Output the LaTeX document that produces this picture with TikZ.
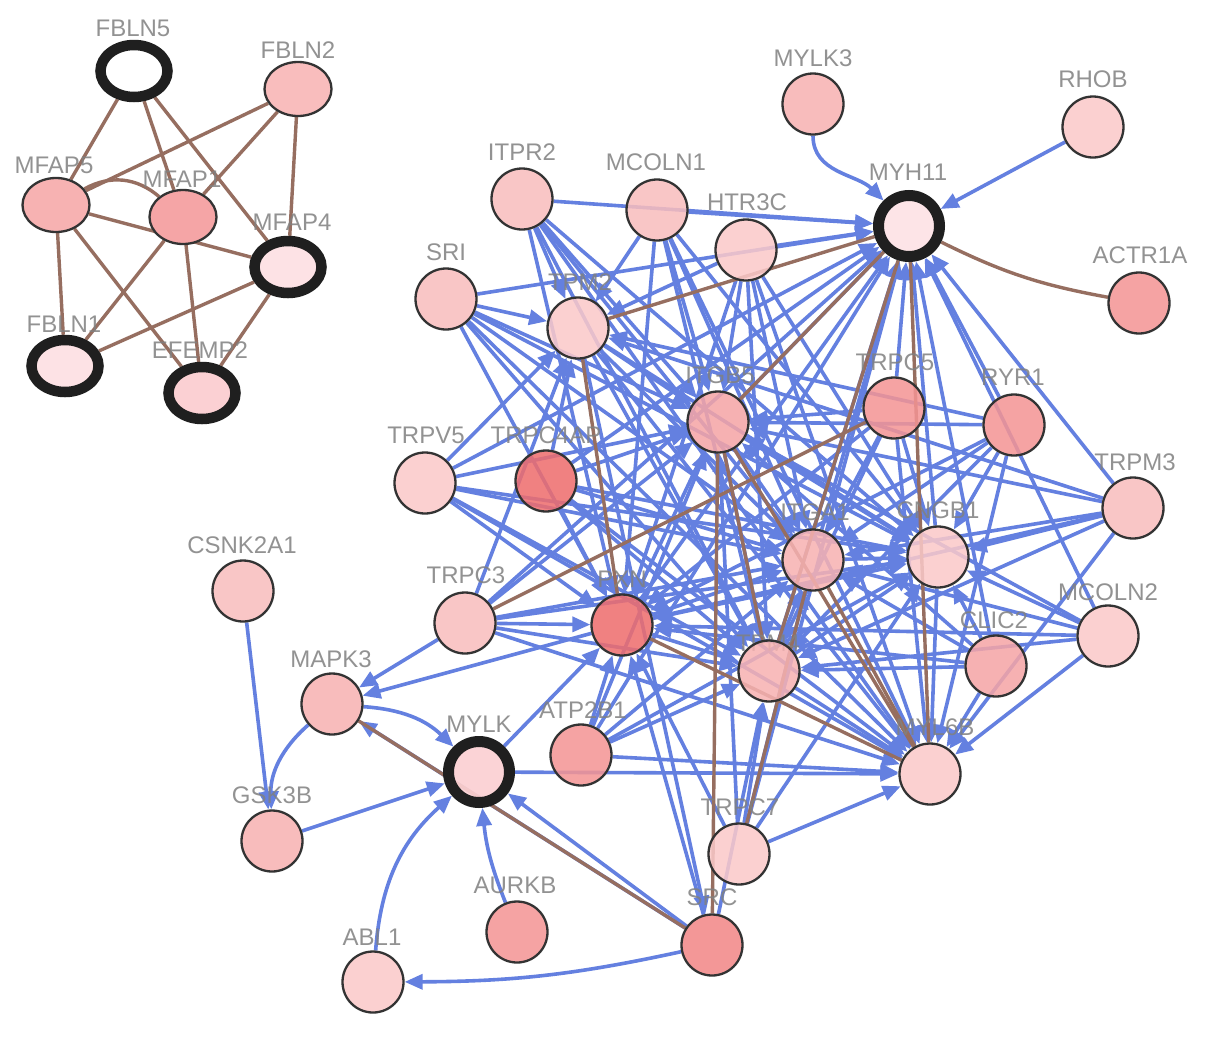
\documentclass[tikz,border=0pt]{standalone}
\usepackage{fontspec}
\setmainfont{Liberation Sans}
\usetikzlibrary{arrows.meta,shapes.geometric}
\pgfdeclarelayer{bg}
\pgfdeclarelayer{labl}
\pgfdeclarelayer{edg}
\pgfsetlayers{bg,edg,labl,main}
\definecolor{eblue}{RGB}{100,128,224}
\definecolor{ebrown}{RGB}{150,110,96}
\definecolor{labgray}{RGB}{128,128,128}
\definecolor{k0}{HTML}{FFFFFF}
\definecolor{k1}{HTML}{FDE2E5}
\definecolor{k2}{HTML}{FBD0D3}
\definecolor{k3}{HTML}{FBC9C9}
\definecolor{k4}{HTML}{F9BDBD}
\definecolor{k5}{HTML}{F7B2B2}
\definecolor{k6}{HTML}{F5A5A6}
\definecolor{k7}{HTML}{F49494}
\definecolor{k8}{HTML}{F28686}
\definecolor{k9}{HTML}{EE6D6D}
\tikzset{
 gn/.style={circle,draw=black!80,line width=2.3pt,minimum size=61pt,inner sep=0pt,fill opacity=0.86,draw opacity=1},
 ring/.style={circle,draw=black!88,line width=11pt,minimum size=61pt,inner sep=0pt,fill opacity=0.92,draw opacity=1},
 gell/.style={ellipse,draw=black!80,line width=2.3pt,minimum width=67pt,minimum height=54pt,inner sep=0pt},
 ering/.style={ellipse,draw=black!88,line width=10.5pt,minimum width=67pt,minimum height=52pt,inner sep=0pt},
 lab/.style={anchor=base,inner sep=0pt,text=labgray,text opacity=0.85,font=\fontsize{24}{24}\selectfont},
 be/.style={draw=eblue,line width=3.6pt,-{Triangle[length=18pt,width=15pt]}},
 br/.style={draw=ebrown,line width=3.4pt},
}
\newcommand\gene[6]{%
 \node[#2,fill=#3] (#1) at (#4) {};%
 \begin{pgfonlayer}{labl}\node[lab] (#1L) at (#6) {#5};\end{pgfonlayer}}
\begin{document}
\begin{tikzpicture}[x=1pt,y=-1pt]
\begin{pgfonlayer}{bg}\fill[white] (0,0) rectangle (1205,1037);\end{pgfonlayer}
\useasboundingbox (0,0) rectangle (1205,1037);
% left cluster
\gene{fbln5}{ering}{k0}{134,71}{FBLN5}{133,36}
\gene{fbln2}{gell}{k4}{298,89}{FBLN2}{298,58}
\gene{mfap5}{gell}{k5}{56,205}{MFAP5}{54,173}
\gene{mfap1}{gell}{k6}{183,217}{MFAP1}{182,187}
\gene{mfap4}{ering}{k1}{288,267}{MFAP4}{292,230}
\gene{fbln1}{ering}{k1}{65,366}{FBLN1}{64,332}
\gene{efemp2}{ering}{k2}{202,393}{EFEMP2}{200,358}
% main cluster
\gene{mylk3}{gn}{k5}{813,104}{MYLK3}{813,66}
\gene{rhob}{gn}{k3}{1093,127}{RHOB}{1093,87}
\gene{myh11}{ring}{k1}{909,226}{MYH11}{908,180}
\gene{actr1a}{gn}{k7}{1139,303}{ACTR1A}{1140,263}
\gene{itpr2}{gn}{k4}{522,199}{ITPR2}{522,160}
\gene{mcoln1}{gn}{k4}{657,210}{MCOLN1}{656,170}
\gene{htr3c}{gn}{k3}{746,250}{HTR3C}{747,210}
\gene{sri}{gn}{k4}{446,299}{SRI}{446,260}
\gene{tpm2}{gn}{k3}{578,328}{TPM2}{580,290}
\gene{itgb5}{gn}{k6}{718,422}{ITGB5}{720,383}
\gene{trpc5}{gn}{k7}{894,408}{TRPC5}{895,370}
\gene{ryr1}{gn}{k7}{1014,425}{RYR1}{1013,385}
\gene{trpv5}{gn}{k3}{425,483}{TRPV5}{426,443}
\gene{trpc4ap}{gn}{k9}{546,481}{TRPC4AP}{546,443}
\gene{trpm3}{gn}{k4}{1133,508}{TRPM3}{1135,470}
\gene{itga1}{gn}{k5}{813,560}{ITGA1}{815,520}
\gene{cngb1}{gn}{k3}{938,557}{CNGB1}{938,518}
\gene{csnk2a1}{gn}{k4}{243,591}{CSNK2A1}{242,553}
\gene{trpc3}{gn}{k4}{465,623}{TRPC3}{466,583}
\gene{pxn}{gn}{k9}{622,625}{PXN}{622,587}
\gene{tpm4}{gn}{k5}{769,671}{TPM4}{768,651}
\gene{clic2}{gn}{k6}{996,666}{CLIC2}{994,628}
\gene{mcoln2}{gn}{k3}{1108,636}{MCOLN2}{1108,600}
\gene{mapk3}{gn}{k5}{332,704}{MAPK3}{331,667}
\gene{mylk}{ring}{k2}{479,772}{MYLK}{479,732}
\gene{atp2b1}{gn}{k7}{581,755}{ATP2B1}{583,718}
\gene{myl6b}{gn}{k3}{930,774}{MYL6B}{935,735}
\gene{gsk3b}{gn}{k5}{272,841}{GSK3B}{272,803}
\gene{trpc7}{gn}{k3}{739,854}{TRPC7}{740,815}
\gene{aurkb}{gn}{k7}{517,932}{AURKB}{515,893}
\gene{src}{gn}{k8}{712,945}{SRC}{712,905}
\gene{abl1}{gn}{k3}{373,982}{ABL1}{372,945}
\begin{pgfonlayer}{edg}
% left cluster (brown)
\foreach \a/\b in {fbln5/mfap5,fbln5/mfap1,fbln5/mfap4,fbln2/mfap5,fbln2/mfap1,fbln2/mfap4,
  mfap5/mfap4,mfap5/fbln1,mfap5/efemp2,mfap1/fbln1,mfap1/efemp2,mfap4/fbln1,mfap4/efemp2}
  \draw[br] (\a) -- (\b);
\draw[br] (mfap5) to[bend left=35] (mfap1);
% dense core: periphery -> hubs
\foreach \s in {itpr2,mcoln1,htr3c,sri,trpv5,trpc4ap,trpc3,atp2b1,trpc7,trpm3,mcoln2,clic2,ryr1,trpc5}{
  \foreach \t in {myh11,myl6b,itga1,cngb1,tpm4,pxn,itgb5}{\draw[be] (\s) -- (\t);}}
\foreach \s in {sri,itpr2,trpv5,mcoln1,trpc3,trpc4ap,htr3c,trpm3,ryr1}
  \draw[be] (\s) -- (tpm2);
% hub to hub
\foreach \a/\b in {itgb5/myh11,itga1/myh11,cngb1/myh11,pxn/myh11,tpm4/myh11,
  cngb1/myl6b,tpm4/myl6b,tpm2/myl6b,itgb5/itga1,pxn/itga1,tpm4/itga1,tpm2/itga1,
  itgb5/cngb1,itga1/cngb1,pxn/cngb1,tpm4/cngb1,tpm2/cngb1,itgb5/pxn,tpm2/tpm4,
  itgb5/tpm4,pxn/tpm4,tpm2/itgb5,tpm2/src,src/pxn,src/tpm4,mylk/pxn,mylk/myl6b,
  trpc3/mapk3,pxn/mapk3,src/mapk3,src/mylk,gsk3b/mylk,csnk2a1/gsk3b,rhob/myh11}
  \draw[be] (\a) -- (\b);
\draw[be] (mylk3) to[out=270,in=135] (myh11);
\draw[be] (mapk3) to[bend left=20] (mylk);
\draw[be] (mapk3) to[bend right=25] (gsk3b);
\draw[be] (aurkb) to[bend left=8] (mylk);
\draw[be] (abl1) to[bend left=22] (mylk);
\draw[be] (src) to[bend left=6] (abl1);
% brown links in main cluster
\draw[br] (myh11) to[bend right=8] (actr1a);
\foreach \a/\b in {tpm2/myh11,tpm2/pxn,itgb5/myl6b,itgb5/tpm4,myh11/itgb5,myh11/tpm4,
  myh11/myl6b,itga1/myl6b,pxn/myl6b,trpc3/trpc5,trpc7/itga1,src/itgb5,src/mapk3}
  \draw[br] (\a) -- (\b);
\end{pgfonlayer}
\end{tikzpicture}
\end{document}
